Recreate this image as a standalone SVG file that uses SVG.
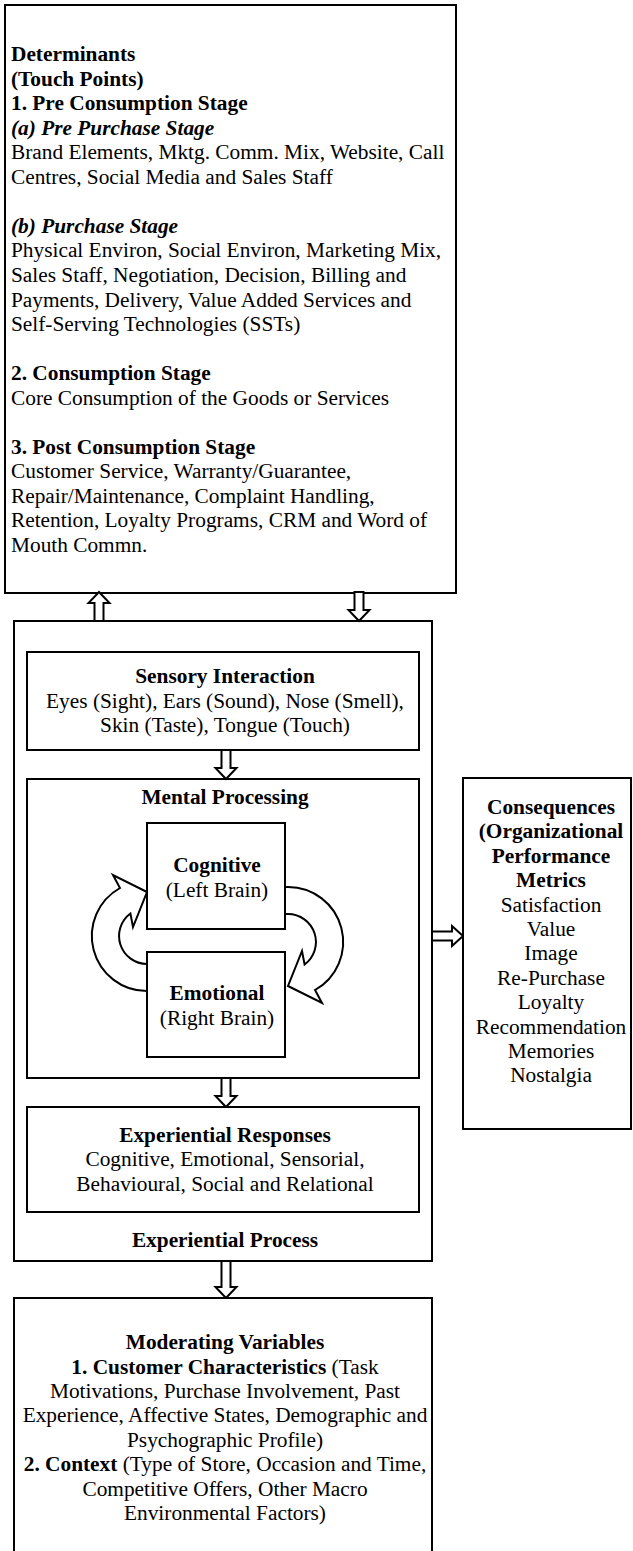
<svg xmlns="http://www.w3.org/2000/svg" width="633" height="1551" viewBox="0 0 633 1551">
<style>
text{font-family:"Liberation Serif","Times New Roman",serif;font-size:21.33px;fill:#000}
.b{font-weight:bold}
.bi{font-weight:bold;font-style:italic}
.c{text-anchor:middle}
.box{fill:#fff;stroke:#000;stroke-width:2}
.arr{fill:#fff;stroke:#000;stroke-width:2;stroke-linejoin:miter}
</style>
<rect x="0" y="0" width="633" height="1551" fill="#fff"/>

<g id="determinants">
<rect class="box" x="5" y="5" width="451" height="588"/>
<text x="11" y="61" class="b">Determinants</text>
<text x="11" y="85.55" class="b">(Touch Points)</text>
<text x="11" y="110.1" class="b">1. Pre Consumption Stage</text>
<text x="11" y="134.65" class="bi">(a) Pre Purchase Stage</text>
<text x="11" y="159.2">Brand Elements, Mktg. Comm. Mix, Website, Call</text>
<text x="11" y="183.75">Centres, Social Media and Sales Staff</text>
<text x="11" y="232.85" class="bi">(b) Purchase Stage</text>
<text x="11" y="257.4">Physical Environ, Social Environ, Marketing Mix,</text>
<text x="11" y="281.95">Sales Staff, Negotiation, Decision, Billing and</text>
<text x="11" y="306.5">Payments, Delivery, Value Added Services and</text>
<text x="11" y="331.05">Self-Serving Technologies (SSTs)</text>
<text x="11" y="380.15" class="b">2. Consumption Stage</text>
<text x="11" y="404.7">Core Consumption of the Goods or Services</text>
<text x="11" y="453.8" class="b">3. Post Consumption Stage</text>
<text x="11" y="478.35">Customer Service, Warranty/Guarantee,</text>
<text x="11" y="502.9">Repair/Maintenance, Complaint Handling,</text>
<text x="11" y="527.45">Retention, Loyalty Programs, CRM and Word of</text>
<text x="11" y="552">Mouth Commn.</text>
</g>

<g id="experiential-process">
<rect class="box" x="14" y="621" width="418" height="640"/>
<text x="225" y="1247" class="b c">Experiential Process</text>
</g>

<g id="sensory">
<rect class="box" x="27" y="652" width="392" height="98"/>
<text x="225" y="683" class="b c">Sensory Interaction</text>
<text x="225" y="707.7" class="c">Eyes (Sight), Ears (Sound), Nose (Smell),</text>
<text x="225" y="732" class="c">Skin (Taste), Tongue (Touch)</text>
</g>

<g id="mental">
<rect class="box" x="27" y="779" width="392" height="299"/>
<text x="225" y="804" class="b c">Mental Processing</text>
</g>

<g id="connectors">
<path class="arr" d="M94.5,621 L103.5,621 L103.5,603 L109.5,603 L99,592 L88.5,603 L94.5,603 Z"/>
<path class="arr" d="M354.5,592 L363.5,592 L363.5,610 L369.5,610 L359,621 L348.5,610 L354.5,610 Z"/>
<path class="arr" d="M221.5,750 L230.5,750 L230.5,768 L236.5,768 L226,779 L215.5,768 L221.5,768 Z"/>
<path class="arr" d="M221.5,1078 L230.5,1078 L230.5,1096 L236.5,1096 L226,1107 L215.5,1096 L221.5,1096 Z"/>
<path class="arr" d="M221.5,1261 L230.5,1261 L230.5,1287 L236.5,1287 L226,1298 L215.5,1287 L221.5,1287 Z"/>
<path class="arr" d="M432,931.5 L452,931.5 L452,926 L463,936 L452,946 L452,940.5 L432,940.5 Z"/>
<path id="loop-left" class="arr" d="M147,892 L113,875 L120,888 A55,55 0 0 0 147,991 L152,991 L152,964 L147,964 A28,28 0 0 1 130.4,913.5 L133,927 Z"/>
<path id="loop-right" class="arr" transform="rotate(180 217.5 939)" d="M147,892 L113,875 L120,888 A55,55 0 0 0 147,991 L152,991 L152,964 L147,964 A28,28 0 0 1 130.4,913.5 L133,927 Z"/>
</g>

<g id="cognitive">
<rect class="box" x="147" y="823" width="138" height="106"/>
<text x="217" y="871.7" class="b c">Cognitive</text>
<text x="217" y="896.5" class="c">(Left Brain)</text>
</g>

<g id="emotional">
<rect class="box" x="147" y="952" width="138" height="105"/>
<text x="217" y="1000" class="b c">Emotional</text>
<text x="217" y="1025" class="c">(Right Brain)</text>
</g>

<g id="responses">
<rect class="box" x="27" y="1107" width="392" height="105"/>
<text x="225" y="1141.5" class="b c">Experiential Responses</text>
<text x="225" y="1166" class="c">Cognitive, Emotional, Sensorial,</text>
<text x="225" y="1190.5" class="c">Behavioural, Social and Relational</text>
</g>

<g id="consequences">
<rect class="box" x="463" y="778" width="168" height="351"/>
<text x="551" y="814" class="b c">Consequences</text>
<text x="551" y="838.4" class="b c">(Organizational</text>
<text x="551" y="862.8" class="b c">Performance</text>
<text x="551" y="887.2" class="b c">Metrics</text>
<text x="551" y="911.6" class="c">Satisfaction</text>
<text x="551" y="936" class="c">Value</text>
<text x="551" y="960.4" class="c">Image</text>
<text x="551" y="984.8" class="c">Re-Purchase</text>
<text x="551" y="1009.2" class="c">Loyalty</text>
<text x="551" y="1033.6" class="c">Recommendation</text>
<text x="551" y="1058" class="c">Memories</text>
<text x="551" y="1082.4" class="c">Nostalgia</text>
</g>

<g id="moderating">
<rect class="box" x="14" y="1298" width="418" height="270"/>
<text x="225" y="1349.3" class="b c">Moderating Variables</text>
<text x="225" y="1373.7" class="c"><tspan class="b">1. Customer Characteristics</tspan> (Task</text>
<text x="225" y="1398" class="c">Motivations, Purchase Involvement, Past</text>
<text x="225" y="1422.4" class="c">Experience, Affective States, Demographic and</text>
<text x="225" y="1446.8" class="c">Psychographic Profile)</text>
<text x="225" y="1471.2" class="c"><tspan class="b">2. Context</tspan> (Type of Store, Occasion and Time,</text>
<text x="225" y="1495.6" class="c">Competitive Offers, Other Macro</text>
<text x="225" y="1520" class="c">Environmental Factors)</text>
</g>
</svg>
